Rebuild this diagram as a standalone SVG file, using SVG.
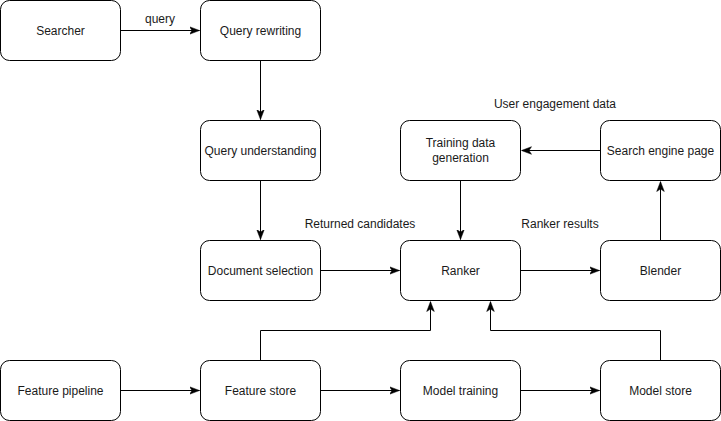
<svg xmlns="http://www.w3.org/2000/svg" width="721" height="421" viewBox="0 0 721 421">
<style>
.box{fill:#fff;stroke:#000;stroke-width:1}
.lbl{font-family:"Liberation Sans",Arial,Helvetica,sans-serif;font-size:12px;fill:#1a1a1a;text-anchor:middle}
.edge{fill:none;stroke:#000;stroke-width:1}
</style>
<defs>
<marker id="arr" viewBox="0 0 10 10" refX="10" refY="5" markerWidth="10" markerHeight="10" markerUnits="userSpaceOnUse" orient="auto">
<path d="M0,1.2 L10,5 L0,8.8 L2.5,5 Z" fill="#000" stroke="#000" stroke-width="0.5"/>
</marker>
</defs>
<rect width="721" height="421" fill="#fff"/>
<g id="connectors">
<path class="edge" d="M120.5,30.5 H199.5" marker-end="url(#arr)"/>
<path class="edge" d="M260.5,60.5 V119.5" marker-end="url(#arr)"/>
<path class="edge" d="M260.5,180.5 V239.5" marker-end="url(#arr)"/>
<path class="edge" d="M320.5,270.5 H399.5" marker-end="url(#arr)"/>
<path class="edge" d="M520.5,270.5 H599.5" marker-end="url(#arr)"/>
<path class="edge" d="M660.5,240.5 V181.5" marker-end="url(#arr)"/>
<path class="edge" d="M600.5,150.5 H521.5" marker-end="url(#arr)"/>
<path class="edge" d="M460.5,180.5 V239.5" marker-end="url(#arr)"/>
<path class="edge" d="M120.5,390.5 H199.5" marker-end="url(#arr)"/>
<path class="edge" d="M320.5,390.5 H399.5" marker-end="url(#arr)"/>
<path class="edge" d="M520.5,390.5 H599.5" marker-end="url(#arr)"/>
<path class="edge" d="M260.5,360.5 V330.5 H430.5 V301.5" marker-end="url(#arr)"/>
<path class="edge" d="M660.5,360.5 V330.5 H490.5 V301.5" marker-end="url(#arr)"/>
<text class="lbl" x="160" y="23">query</text>
<text class="lbl" x="555" y="108">User engagement data</text>
<text class="lbl" x="360" y="228">Returned candidates</text>
<text class="lbl" x="560" y="228">Ranker results</text>
</g>
<g id="searcher"><rect class="box" x="0.5" y="0.5" width="120" height="60" rx="9"/><text class="lbl" x="60.5" y="34.5">Searcher</text></g>
<g id="query-rewriting"><rect class="box" x="200.5" y="0.5" width="120" height="60" rx="9"/><text class="lbl" x="260.5" y="34.5">Query rewriting</text></g>
<g id="query-understanding"><rect class="box" x="200.5" y="120.5" width="120" height="60" rx="9"/><text class="lbl" x="260.5" y="154.5">Query understanding</text></g>
<g id="document-selection"><rect class="box" x="200.5" y="240.5" width="120" height="60" rx="9"/><text class="lbl" x="260.5" y="274.5">Document selection</text></g>
<g id="training-data-generation"><rect class="box" x="400.5" y="120.5" width="120" height="60" rx="9"/><text class="lbl" x="460.5" y="147">Training data</text><text class="lbl" x="460.5" y="162">generation</text></g>
<g id="search-engine-page"><rect class="box" x="600.5" y="120.5" width="120" height="60" rx="9"/><text class="lbl" x="660.5" y="154.5">Search engine page</text></g>
<g id="ranker"><rect class="box" x="400.5" y="240.5" width="120" height="60" rx="9"/><text class="lbl" x="460.5" y="274.5">Ranker</text></g>
<g id="blender"><rect class="box" x="600.5" y="240.5" width="120" height="60" rx="9"/><text class="lbl" x="660.5" y="274.5">Blender</text></g>
<g id="feature-pipeline"><rect class="box" x="0.5" y="360.5" width="120" height="60" rx="9"/><text class="lbl" x="60.5" y="394.5">Feature pipeline</text></g>
<g id="feature-store"><rect class="box" x="200.5" y="360.5" width="120" height="60" rx="9"/><text class="lbl" x="260.5" y="394.5">Feature store</text></g>
<g id="model-training"><rect class="box" x="400.5" y="360.5" width="120" height="60" rx="9"/><text class="lbl" x="460.5" y="394.5">Model training</text></g>
<g id="model-store"><rect class="box" x="600.5" y="360.5" width="120" height="60" rx="9"/><text class="lbl" x="660.5" y="394.5">Model store</text></g>
</svg>
